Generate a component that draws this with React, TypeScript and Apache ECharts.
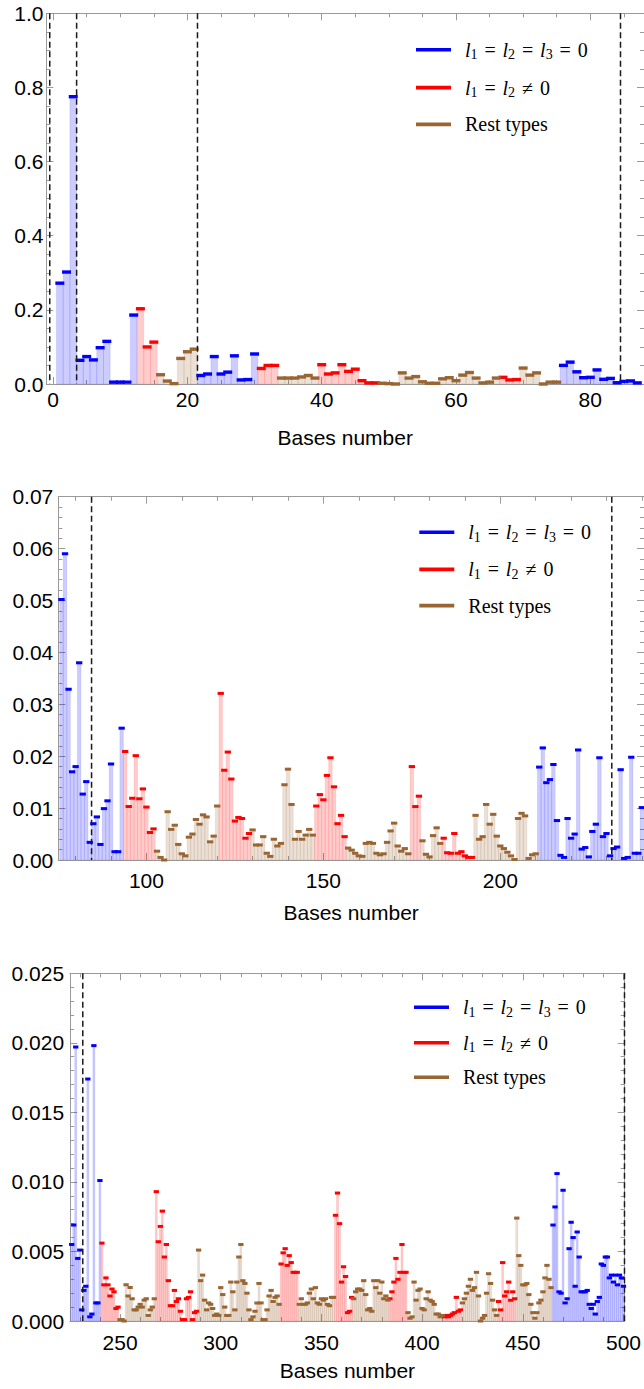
import React, { useEffect, useRef } from "react";
import * as echarts from "echarts";

// ---------- DATA ----------
// values for bases 1..75
const valuesBases1to75 = [
  0.272, 0.302, 0.775, 0.064, 0.074, 0.065, 0.098, 0.115, 0.005, 0.005,
  0.005, 0.186, 0.203, 0.100, 0.113, 0.025, 0.008, 0.001, 0.069, 0.087,
  0.094, 0.023, 0.027, 0.074, 0.027, 0.032, 0.076, 0.011, 0.012, 0.081,
  0.042, 0.050, 0.050, 0.016, 0.016, 0.016, 0.019, 0.023, 0.016, 0.052,
  0.027, 0.030, 0.052, 0.034, 0.040, 0.009, 0.003, 0.003, 0.002, 0.001,
  0.000, 0.030, 0.016, 0.020, 0.006, 0.002, 0.002, 0.014, 0.017, 0.009,
  0.024, 0.031, 0.016, 0.003, 0.005, 0.016, 0.018, 0.011, 0.012, 0.043,
  0.024, 0.030, 0.000, 0.005, 0.005,
];
// values for bases 76..240
const valuesBases76to240 = [
  0.0502, 0.0590, 0.0329, 0.0170, 0.0180, 0.0380, 0.0127, 0.0151, 0.0034, 0.0070,
  0.0083, 0.0030, 0.0099, 0.0114, 0.0185, 0.0016, 0.0016, 0.0254, 0.0209, 0.0103,
  0.0119, 0.0201, 0.0118, 0.0137, 0.0102, 0.0053, 0.0060, 0.0017, 0.0005, 0.0000,
  0.0093, 0.0059, 0.0067, 0.0030, 0.0012, 0.0008, 0.0044, 0.0050, 0.0078, 0.0069,
  0.0087, 0.0083, 0.0035, 0.0046, 0.0104, 0.0321, 0.0173, 0.0208, 0.0156, 0.0075,
  0.0082, 0.0080, 0.0042, 0.0051, 0.0058, 0.0029, 0.0029, 0.0045, 0.0013, 0.0007,
  0.0040, 0.0027, 0.0032, 0.0145, 0.0175, 0.0107, 0.0040, 0.0055, 0.0040, 0.0048,
  0.0059, 0.0048, 0.0104, 0.0126, 0.0116, 0.0163, 0.0197, 0.0141, 0.0070, 0.0086,
  0.0045, 0.0023, 0.0019, 0.0013, 0.0008, 0.0007, 0.0032, 0.0034, 0.0032, 0.0013,
  0.0010, 0.0012, 0.0034, 0.0056, 0.0071, 0.0027, 0.0017, 0.0022, 0.0012, 0.0180,
  0.0103, 0.0123, 0.0037, 0.0011, 0.0006, 0.0047, 0.0062, 0.0032, 0.0042, 0.0014,
  0.0013, 0.0051, 0.0013, 0.0016, 0.0008, 0.0005, 0.0005, 0.0086, 0.0040, 0.0045,
  0.0107, 0.0069, 0.0088, 0.0046, 0.0027, 0.0022, 0.0015, 0.0008, 0.0001, 0.0080,
  0.0090, 0.0085, 0.0003, 0.0010, 0.0012, 0.0179, 0.0216, 0.0149, 0.0155, 0.0184,
  0.0076, 0.0009, 0.0005, 0.0080, 0.0042, 0.0050, 0.0212, 0.0021, 0.0024, 0.0006,
  0.0055, 0.0069, 0.0197, 0.0045, 0.0051, 0.0008, 0.0022, 0.0025, 0.0174, 0.0003,
  0.0005, 0.0198, 0.0013, 0.0013, 0.0101,
];
// values for bases 241..500
const valuesBases241to500 = [
  0.0056, 0.0026, 0.0031, 0.0026, 0.0018, 0.0023, 0.0021, 0.0009, 0.0010, 0.0001,
  0.0001, 0.0000, 0.0026, 0.0018, 0.0024, 0.0016, 0.0008, 0.0008, 0.0010, 0.0012,
  0.0010, 0.0015, 0.0016, 0.0004, 0.0008, 0.0010, 0.0016, 0.0093, 0.0057, 0.0068,
  0.0079, 0.0046, 0.0055, 0.0029, 0.0011, 0.0011, 0.0022, 0.0014, 0.0016, 0.0007,
  0.0001, 0.0001, 0.0016, 0.0017, 0.0021, 0.0001, 0.0006, 0.0007, 0.0051, 0.0029,
  0.0033, 0.0015, 0.0008, 0.0013, 0.0012, 0.0009, 0.0004, 0.0005, 0.0004, 0.0024,
  0.0019, 0.0010, 0.0004, 0.0004, 0.0028, 0.0021, 0.0008, 0.0028, 0.0046, 0.0055,
  0.0029, 0.0027, 0.0020, 0.0008, 0.0001, 0.0003, 0.0007, 0.0013, 0.0027, 0.0013,
  0.0001, 0.0001, 0.0008, 0.0018, 0.0022, 0.0014, 0.0017, 0.0018, 0.0012, 0.0041,
  0.0049, 0.0052, 0.0040, 0.0047, 0.0042, 0.0035, 0.0035, 0.0035, 0.0012, 0.0016,
  0.0012, 0.0012, 0.0013, 0.0020, 0.0023, 0.0016, 0.0024, 0.0013, 0.0012, 0.0016,
  0.0015, 0.0016, 0.0012, 0.0011, 0.0017, 0.0017, 0.0076, 0.0092, 0.0070, 0.0028,
  0.0039, 0.0032, 0.0006, 0.0007, 0.0017, 0.0016, 0.0021, 0.0023, 0.0023, 0.0022,
  0.0029, 0.0019, 0.0008, 0.0009, 0.0007, 0.0029, 0.0024, 0.0029, 0.0020, 0.0028,
  0.0016, 0.0018, 0.0015, 0.0016, 0.0021, 0.0028, 0.0045, 0.0030, 0.0035, 0.0055,
  0.0035, 0.0035, 0.0006, 0.0002, 0.0003, 0.0028, 0.0015, 0.0022, 0.0023, 0.0009,
  0.0008, 0.0016, 0.0021, 0.0015, 0.0014, 0.0012, 0.0005, 0.0005, 0.0003, 0.0004,
  0.0003, 0.0004, 0.0003, 0.0004, 0.0005, 0.0006, 0.0017, 0.0007, 0.0008, 0.0013,
  0.0016, 0.0020, 0.0025, 0.0030, 0.0022, 0.0024, 0.0035, 0.0018, 0.0000, 0.0002,
  0.0004, 0.0020, 0.0034, 0.0027, 0.0015, 0.0008, 0.0004, 0.0014, 0.0008, 0.0042,
  0.0018, 0.0021, 0.0028, 0.0015, 0.0021, 0.0016, 0.0074, 0.0047, 0.0040, 0.0026,
  0.0026, 0.0027, 0.0019, 0.0012, 0.0006, 0.0002, 0.0006, 0.0013, 0.0015, 0.0021,
  0.0031, 0.0040, 0.0030, 0.0024, 0.0069, 0.0082, 0.0106, 0.0021, 0.0020, 0.0094,
  0.0013, 0.0016, 0.0052, 0.0071, 0.0060, 0.0025, 0.0064, 0.0046, 0.0021, 0.0021,
  0.0021, 0.0022, 0.0012, 0.0009, 0.0012, 0.0005, 0.0014, 0.0017, 0.0041, 0.0040,
  0.0046, 0.0046, 0.0031, 0.0033, 0.0028, 0.0033, 0.0026, 0.0033, 0.0031, 0.0025,
];
// type runs: [firstBase, lastBase, type]  0 = l1=l2=l3=0, 1 = l1=l2≠0, 2 = rest
const typeRuns: [number, number, number][] = [
  [1, 12, 0], [13, 15, 1], [16, 21, 2], [22, 30, 0], [31, 33, 1], [34, 39, 2],
  [40, 48, 1], [49, 66, 2], [67, 69, 1], [70, 75, 2], [76, 93, 0], [94, 102, 1],
  [103, 120, 2], [121, 129, 1], [130, 147, 2], [148, 156, 1], [157, 174, 2],
  [175, 177, 1], [178, 183, 2], [184, 192, 1], [193, 210, 2], [211, 240, 0],
  [241, 249, 1], [250, 267, 2], [268, 288, 1], [289, 329, 2], [330, 338, 1],
  [339, 356, 2], [357, 365, 1], [366, 383, 2], [384, 392, 1], [393, 410, 2],
  [411, 419, 1], [420, 437, 2], [438, 446, 1], [447, 464, 2], [465, 500, 0],
];
const typeNames = ["l1 = l2 = l3 = 0", "l1 = l2 ≠ 0", "Rest types"];
const dashedPositions = [-0.5, 3.5, 21.5, 84.5, 231.5, 500.5];

// panel settings
const panelBaseRange = [[1, 87], [76, 240], [226, 500]];
const panelXRange = [[-1, 88], [75.1, 240.6], [225.2, 500.6]];
const panelYMax = [1.0, 0.07, 0.025];
const panelYInterval = [0.2, 0.01, 0.005];
const panelYDecimals = [1, 2, 3];
const panelYMinorSplit = [4, 5, 5];
const panelXMajor = [
  [0, 20, 40, 60, 80],
  [100, 150, 200],
  [250, 300, 350, 400, 450, 500],
];
const panelXMinorStep = [5, 10, 10];

// ---------- STYLE / LAYOUT ----------
const panelRect = [
  { left: 46.4, top: 13.3, width: 600, height: 370.7 },
  { left: 58.3, top: 496.7, width: 587.2, height: 363.3 },
  { left: 70.1, top: 973.3, width: 563.4, height: 347.7 },
];
const markerSize = [[9, 3.4], [6.3, 3], [5.3, 3]];
const xLabelMargin = [5, 10, 11];
const xNameGap = [43, 42, 39];
const yLabelMargin = [3, 5, 6];
const legendPos = [
  { left: 416, top: 37.8, gap: 13.8 },
  { left: 419.3, top: 520.2, gap: 13.2 },
  { left: 414, top: 995.2, gap: 11.5 },
];
const markerColors = ["#0000ff", "#ff0000", "#996633"];
const barFill = ["rgba(0,0,255,0.2)", "rgba(255,0,0,0.2)", "rgba(153,102,51,0.2)"];
const barStroke = ["rgba(0,0,255,0.12)", "rgba(255,0,0,0.12)", "rgba(153,102,51,0.14)"];
const frameColor = "#9a9a9a";
const sans = "Liberation Sans, Arial, sans-serif";
const serif = "Liberation Serif, Times New Roman, serif";
const labelSize = 21;

function buildAll() {
  const values: number[] = [];
  const types: number[] = [];
  const all = [...valuesBases1to75, ...valuesBases76to240, ...valuesBases241to500];
  all.forEach((v, k) => {
    values[k + 1] = v;
  });
  typeRuns.forEach(([a, b, t]) => {
    for (let i = a; i <= b; i++) types[i] = t;
  });
  return { values, types };
}

function minorValues(k: number) {
  const [mn, mx] = panelXRange[k];
  const step = panelXMinorStep[k];
  const out: number[] = [];
  for (let v = Math.ceil(mn / step) * step; v <= mx; v += step) {
    if (!panelXMajor[k].includes(v)) out.push(v);
  }
  return out;
}

function buildOption() {
  const { values, types } = buildAll();
  const grid: any[] = [];
  const xAxis: any[] = [];
  const yAxis: any[] = [];
  const series: any[] = [];
  const legend: any[] = [];

  const legendFormatter = (name: string) => {
    if (name === typeNames[0])
      return "{i|l}{s|1}{e|=}{i|l}{s|2}{e|=}{i|l}{s|3}{e|=}{n|0}";
    if (name === typeNames[1]) return "{i|l}{s|1}{e|=}{i|l}{s|2}{e|≠}{n|0}";
    return "{n|Rest types}";
  };

  for (let k = 0; k < 3; k++) {
    grid.push({ ...panelRect[k], containLabel: false });
    const [xmin, xmax] = panelXRange[k];
    const common = {
      gridIndex: k,
      type: "value",
      min: xmin,
      max: xmax,
      splitLine: { show: false },
      axisLine: { show: true, onZero: false, lineStyle: { color: frameColor, width: 1 } },
    };
    const minors = minorValues(k);
    xAxis.push({
      ...common,
      position: "bottom",
      axisTick: { show: true, inside: true, length: 7, customValues: panelXMajor[k], lineStyle: { color: frameColor } },
      axisLabel: {
        show: true,
        customValues: panelXMajor[k],
        color: "#000",
        fontSize: labelSize,
        fontFamily: sans,
        margin: xLabelMargin[k],
      },
      name: "Bases number",
      nameLocation: "middle",
      nameGap: xNameGap[k],
      nameTextStyle: { color: "#000", fontSize: labelSize, fontFamily: sans },
    });
    xAxis.push({
      ...common,
      position: "bottom",
      axisTick: { show: true, inside: true, length: 4, customValues: minors, lineStyle: { color: frameColor } },
      axisLabel: { show: false },
    });
    xAxis.push({
      ...common,
      position: "top",
      axisTick: { show: true, inside: true, length: 7, customValues: panelXMajor[k], lineStyle: { color: frameColor } },
      axisLabel: { show: false },
    });
    xAxis.push({
      ...common,
      position: "top",
      axisTick: { show: true, inside: true, length: 4, customValues: minors, lineStyle: { color: frameColor } },
      axisLabel: { show: false },
    });

    const yCommon = {
      gridIndex: k,
      type: "value",
      min: 0,
      max: panelYMax[k],
      interval: panelYInterval[k],
      splitLine: { show: false },
      axisLine: { show: true, onZero: false, lineStyle: { color: frameColor, width: 1 } },
      axisTick: { show: true, inside: true, length: 7, lineStyle: { color: frameColor } },
      minorTick: { show: true, splitNumber: panelYMinorSplit[k], length: 4, lineStyle: { color: frameColor } },
    };
    yAxis.push({
      ...yCommon,
      position: "left",
      axisLabel: {
        show: true,
        color: "#000",
        fontSize: labelSize,
        fontFamily: sans,
        margin: yLabelMargin[k],
        formatter: (v: number) => v.toFixed(panelYDecimals[k]),
      },
    });
    yAxis.push({ ...yCommon, position: "right", axisLabel: { show: false } });

    const [b0, b1] = panelBaseRange[k];
    const barData: number[][] = [];
    const markerData: number[][][] = [[], [], []];
    for (let i = b0; i <= b1; i++) {
      barData.push([i, values[i], types[i]]);
      markerData[types[i]].push([i, values[i]]);
    }
    const xAxisIndex = 4 * k;
    const yAxisIndex = 2 * k;

    series.push({
      type: "custom",
      name: "bars" + k,
      xAxisIndex,
      yAxisIndex,
      z: 2,
      silent: true,
      encode: { x: 0, y: 1 },
      data: barData,
      renderItem: (params: any, api: any) => {
        const x = api.value(0);
        const v = api.value(1);
        const t = api.value(2);
        const p0 = api.coord([x - 0.5, v]);
        const p1 = api.coord([x + 0.5, 0]);
        return {
          type: "rect",
          shape: { x: p0[0], y: p0[1], width: p1[0] - p0[0], height: p1[1] - p0[1] },
          style: { fill: barFill[t], stroke: barStroke[t], lineWidth: 0.8 },
        };
      },
    });

    for (let t = 0; t < 3; t++) {
      const [mw, mh] = markerSize[k];
      series.push({
        type: "custom",
        name: typeNames[t],
        xAxisIndex,
        yAxisIndex,
        z: 3,
        silent: true,
        encode: { x: 0, y: 1 },
        itemStyle: { color: markerColors[t] },
        data: markerData[t],
        renderItem: (params: any, api: any) => {
          const c = api.coord([api.value(0), api.value(1)]);
          return {
            type: "rect",
            shape: { x: c[0] - mw / 2, y: c[1] - mh / 2, width: mw, height: mh },
            style: { fill: markerColors[t] },
          };
        },
      });
    }

    const dashData = dashedPositions.filter((d) => d >= xmin && d <= xmax).map((d) => [d, 0]);
    series.push({
      type: "custom",
      name: "dash" + k,
      xAxisIndex,
      yAxisIndex,
      z: 4,
      silent: true,
      encode: { x: 0, y: 1 },
      data: dashData,
      renderItem: (params: any, api: any) => {
        const x = api.value(0);
        const top = api.coord([x, panelYMax[k]]);
        const bot = api.coord([x, 0]);
        return {
          type: "line",
          shape: { x1: top[0], y1: top[1], x2: bot[0], y2: bot[1] },
          style: { stroke: "#1a1a1a", lineWidth: 1.5, lineDash: [6, 3.5] },
        };
      },
    });

    legend.push({
      orient: "vertical",
      left: legendPos[k].left,
      top: legendPos[k].top,
      itemGap: legendPos[k].gap,
      padding: 0,
      icon: "rect",
      itemWidth: 35,
      itemHeight: 3.6,
      selectedMode: false,
      data: typeNames,
      formatter: legendFormatter,
      textStyle: {
        color: "#000",
        fontFamily: serif,
        fontSize: 20,
        lineHeight: 22,
        padding: [0, 0, 0, 9],
        rich: {
          i: { fontFamily: serif, fontStyle: "italic", fontSize: 20, lineHeight: 22, color: "#000" },
          n: { fontFamily: serif, fontSize: 20, lineHeight: 22, color: "#000" },
          e: { fontFamily: serif, fontSize: 20, lineHeight: 22, width: 25, align: "center", color: "#000" },
          s: { fontFamily: serif, fontSize: 14, lineHeight: 12, padding: [10, 0, 0, 0], color: "#000" },
        },
      },
    });
  }

  return {
    animation: false,
    backgroundColor: "#ffffff",
    grid,
    xAxis,
    yAxis,
    series,
    legend,
  };
}

export default function App() {
  const ref = useRef<HTMLDivElement>(null);
  useEffect(() => {
    if (!ref.current) return;
    const chart = echarts.init(ref.current, undefined, { renderer: "svg" });
    chart.setOption(buildOption() as any);
    return () => {
      chart.dispose();
    };
  }, []);
  return (
    <div
      ref={ref}
      style={{ position: "absolute", left: 0, top: 0, width: 644, height: 1389, background: "#fff" }}
    />
  );
}
